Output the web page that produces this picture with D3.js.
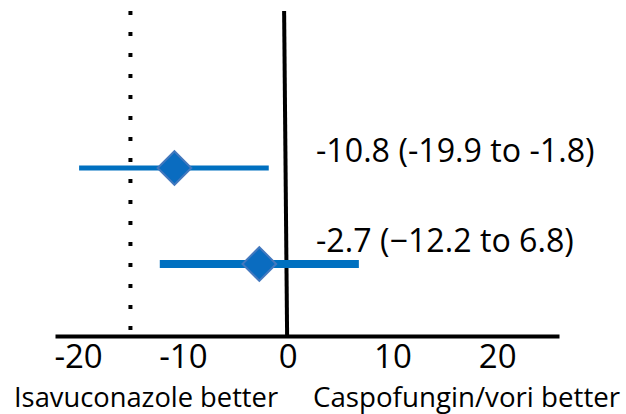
<!DOCTYPE html>
<html>
<head>
<meta charset="utf-8">
<script src="https://cdn.jsdelivr.net/npm/d3@7"></script>
<style>
  body { margin: 0; background: #fff; }
  text { font-family: "Open Sans", sans-serif; fill: #000; }
</style>
</head>
<body>
<div id="chart"></div>
<script>
// data
const rows = ["Row 1", "Row 2"];
const estimates = [-10.8, -2.7];
const lower = [-19.9, -12.2];
const upper = [-1.8, 6.8];
const rowLabels = ["-10.8 (-19.9 to -1.8)", "-2.7 (\u221212.2 to 6.8)"];
const tickValues = [-20, -10, 0, 10, 20];
const refLine = -15; // dotted margin line
const leftTitle = "Isavuconazole better";
const rightTitle = "Caspofungin/vori better";

let width = 626, height = 414;
const blue = "#0070C0";
const ciWidths = [5, 8];
const labelY = [162, 252];

let svg = d3.select("#chart").append("svg")
    .attr("width", width).attr("height", height);

let x = d3.scaleLinear().domain([-22.2, 25.9]).range([55, 559]);
let y = d3.scalePoint().domain(rows).range([168, 264]);
const axisY = 336;

// dotted line
svg.append("line")
    .attr("x1", x(refLine)).attr("x2", x(refLine))
    .attr("y1", 11).attr("y2", axisY - 2)
    .attr("stroke", "#000")
    .attr("stroke-width", 4)
    .attr("stroke-dasharray", "4,17");

// axis
let axis = svg.append("g")
    .attr("transform", "translate(0," + axisY + ")")
    .call(d3.axisBottom(x).tickValues(tickValues).tickSize(0).tickPadding(9)
        .tickFormat(d => d));
axis.select(".domain").attr("stroke", "#000").attr("stroke-width", 4);
axis.selectAll(".tick text")
    .attr("font-size", 33)
    .attr("fill", "#000");

// zero line, slightly leaning like the drawn one
svg.append("line")
    .attr("x1", x(0) - 3.5).attr("x2", x(0) - 0.5)
    .attr("y1", 11).attr("y2", axisY)
    .attr("stroke", "#000")
    .attr("stroke-width", 4);

// confidence intervals
svg.selectAll("line.ci")
    .data(rows)
    .enter()
    .append("line")
    .attr("class", "ci")
    .attr("x1", (d, i) => x(lower[i]))
    .attr("x2", (d, i) => x(upper[i]))
    .attr("y1", d => y(d))
    .attr("y2", d => y(d))
    .attr("stroke", blue)
    .attr("stroke-width", (d, i) => ciWidths[i]);

// diamonds
let sym = d3.symbol().type(d3.symbolDiamond2).size(2 * 19 * 19);
svg.selectAll("path.est")
    .data(rows)
    .enter()
    .append("path")
    .attr("class", "est")
    .attr("d", sym)
    .attr("transform", (d, i) => "translate(" + x(estimates[i]) + "," + y(d) + ")")
    .attr("fill", "#0A6CC0")
    .attr("stroke", "#4378BE")
    .attr("stroke-width", 2);

// row labels
svg.selectAll("text.rowlab")
    .data(rows)
    .enter()
    .append("text")
    .attr("class", "rowlab")
    .attr("x", 316)
    .attr("y", (d, i) => labelY[i])
    .attr("font-size", 32.2)
    .text((d, i) => rowLabels[i]);

// axis titles
svg.append("text")
    .attr("x", 14).attr("y", 407)
    .attr("font-size", 27.3)
    .text(leftTitle);
svg.append("text")
    .attr("x", 313).attr("y", 407)
    .attr("font-size", 27.7)
    .text(rightTitle);
</script>
</body>
</html>
